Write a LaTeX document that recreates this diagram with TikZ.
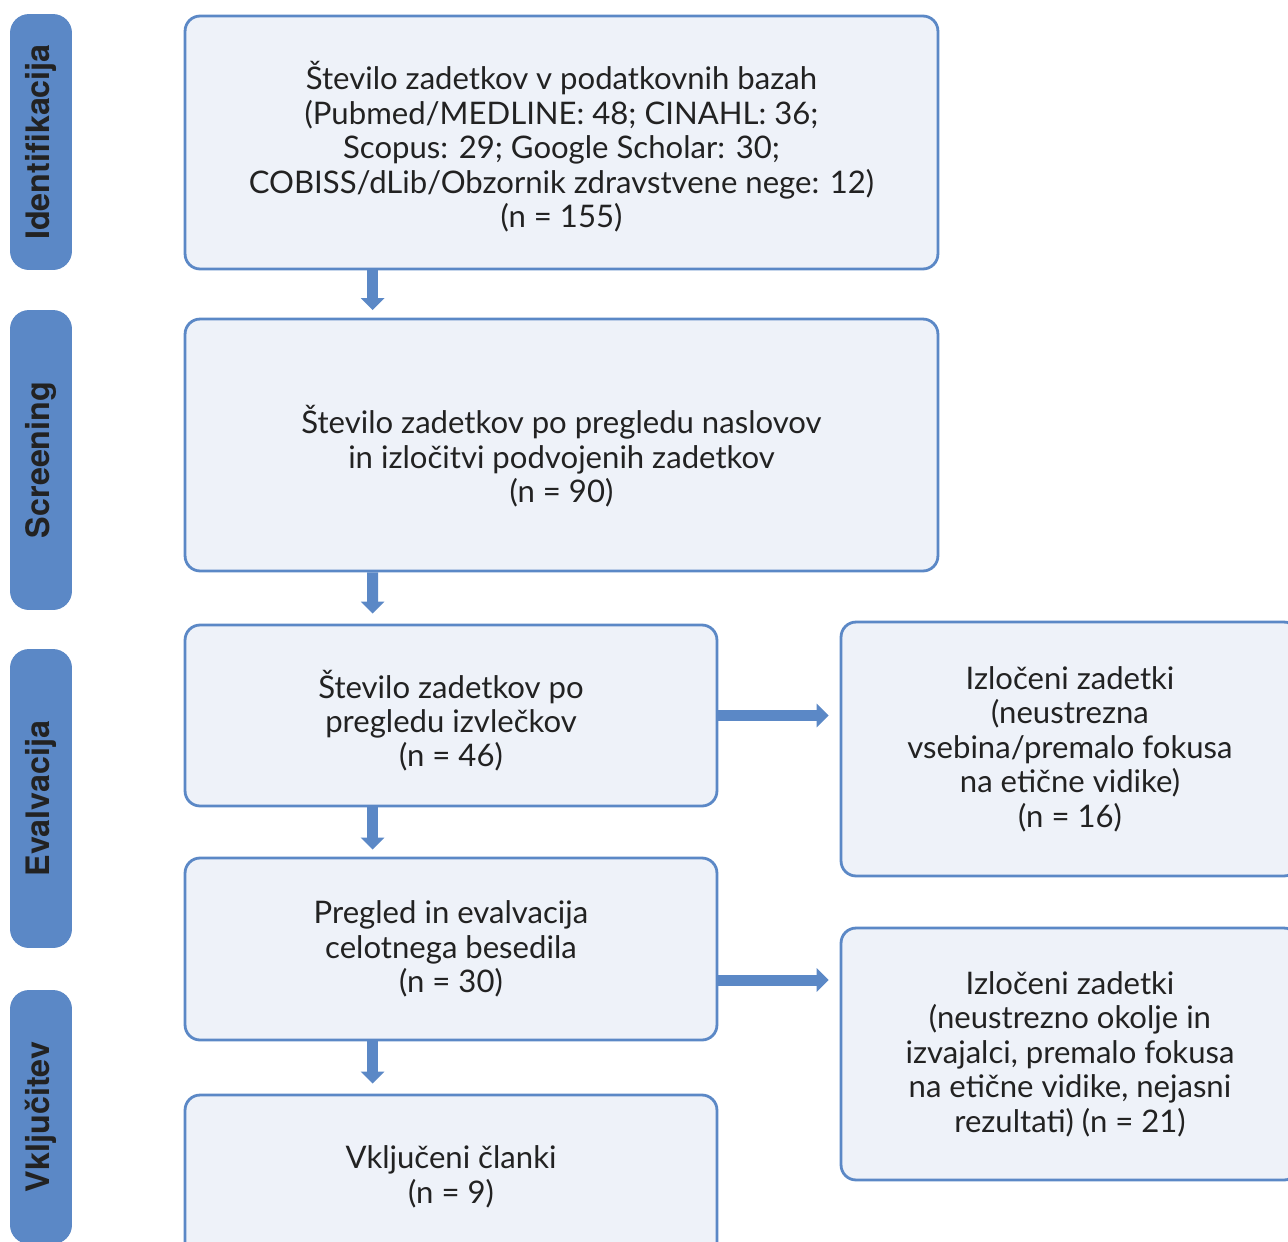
\documentclass[tikz,border=0pt]{standalone}
\usepackage{fontspec}
\setmainfont{Lato}
\newfontfamily\barfont{TeX Gyre Heros}
\usetikzlibrary{arrows.meta}
\definecolor{flowblue}{HTML}{5B88C6}
\definecolor{flowfill}{HTML}{EEF2F9}
\definecolor{flowtext}{HTML}{222222}
\begin{document}
\begin{tikzpicture}[x=0.02cm,y=-0.02cm,
  box/.style={draw=flowblue,fill=flowfill,line width=1.6pt,rounded corners=0.3cm,align=center,
    text=flowtext,font=\fontsize{17.7}{19.6}\selectfont,inner sep=0pt},
  phase/.style={fill=flowblue,rounded corners=0.38cm,minimum width=1.24cm,text=flowtext,
    font=\barfont\fontsize{18.4}{20}\selectfont\bfseries,rotate=90,inner sep=0pt},
  arr/.style={flowblue,line width=0.22cm,-{Triangle[length=0.24cm,width=0.46cm]}}]
\useasboundingbox (0,0) rectangle (1288,1241);
\clip (0,0) rectangle (1288,1241);
% phases on the left
\node [phase,minimum width=5.12cm,minimum height=1.24cm] (pid) at (41,142) {Identifikacija};
\node [phase,minimum width=6.0cm,minimum height=1.24cm] (psc) at (41,460) {Screening};
\node [phase,minimum width=5.98cm,minimum height=1.24cm] (pev) at (41,798.5) {Evalvacija};
\node [phase,minimum width=5.08cm,minimum height=1.24cm] (pvk) at (41,1117) {Vključitev};
% main flow
\node [box,minimum width=15.06cm,minimum height=5.06cm] (iskanje) at (561.5,142.5)
  {\rule{0pt}{21pt}Število zadetkov v podatkovnih bazah\\(Pubmed/MEDLINE: 48; CINAHL: 36;\\Scopus: 29; Google Scholar: 30;\\COBISS/dLib/Obzornik zdravstvene nege: 12)\\(n = 155)};
\node [box,minimum width=15.06cm,minimum height=5.04cm] (naslovi) at (561.5,445)
  {\rule{0pt}{29pt}Število zadetkov po pregledu naslovov\\in izločitvi podvojenih zadetkov\\(n = 90)};
\node [box,minimum width=10.64cm,minimum height=3.62cm] (izvlecki) at (451,715.5)
  {\rule{0pt}{22pt}Število zadetkov po\\pregledu izvlečkov\\(n = 46)};
\node [box,minimum width=10.64cm,minimum height=3.64cm] (besedilo) at (451,949)
  {Pregled in evalvacija\\celotnega besedila\\(n = 30)};
\node [box,minimum width=10.64cm,minimum height=3.28cm] (vkljuceni) at (451,1177)
  {Vključeni članki\\(n = 9)};
% excluded
\node [box,minimum width=9.16cm,minimum height=5.08cm] (izloceni1) at (1070,749)
  {Izločeni zadetki\\(neustrezna\\vsebina/premalo fokusa\\na etične vidike)\\(n = 16)};
\node [box,minimum width=9.16cm,minimum height=5.04cm] (izloceni2) at (1070,1054)
  {Izločeni zadetki\\(neustrezno okolje in\\izvajalci, premalo fokusa\\na etične vidike, nejasni\\rezultati) (n = 21)};
% arrows
\draw [arr,shorten >=0.15cm] ([xshift=3.78cm]iskanje.south west) -- ([xshift=3.78cm]naslovi.north west);
\draw [arr,shorten >=0.2cm] ([xshift=3.78cm]naslovi.south west) -- ([xshift=3.78cm]izvlecki.north west);
\draw [arr,shorten >=0.14cm] ([xshift=3.78cm]izvlecki.south west) -- ([xshift=3.78cm]besedilo.north west);
\draw [arr,shorten >=0.2cm] ([xshift=3.78cm]besedilo.south west) -- ([xshift=3.78cm]vkljuceni.north west);
\draw [arr,shorten >=0.22cm] (izvlecki.east) -- (izvlecki.east -| izloceni1.west);
\draw [arr,shorten >=0.22cm] ([yshift=-0.62cm]besedilo.east) -- ([yshift=-0.62cm]besedilo.east -| izloceni2.west);
\end{tikzpicture}
\end{document}
